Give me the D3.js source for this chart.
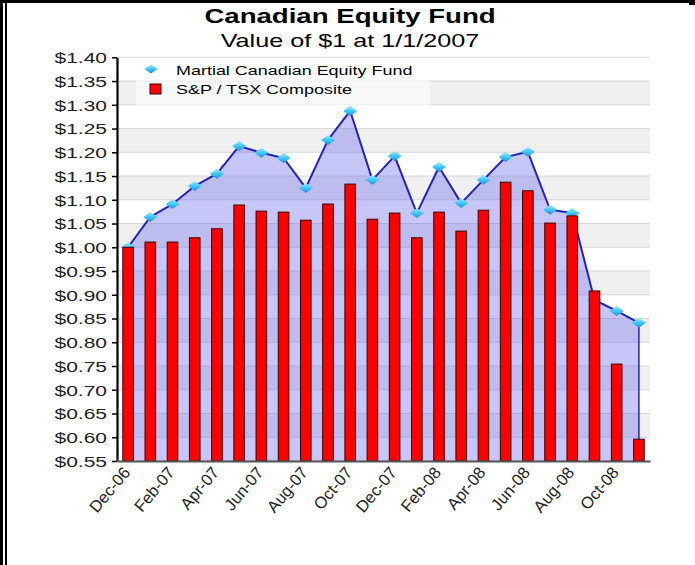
<!DOCTYPE html>
<html>
<head>
<meta charset="utf-8">
<script src="https://cdn.jsdelivr.net/npm/d3@7"></script>
<style>
  html, body { margin: 0; padding: 0; background: #fff; }
  svg { display: block; font-family: "Liberation Sans", Arial, sans-serif; }
</style>
</head>
<body>
<svg id="chart" width="695" height="565"></svg>
<script>
// ---- data ----
const months = ["Dec-06","Jan-07","Feb-07","Mar-07","Apr-07","May-07","Jun-07","Jul-07","Aug-07","Sep-07","Oct-07","Nov-07",
                "Dec-07","Jan-08","Feb-08","Mar-08","Apr-08","May-08","Jun-08","Jul-08","Aug-08","Sep-08","Oct-08","Nov-08"];
const fundValues = [1.000,1.064,1.091,1.129,1.155,1.213,1.199,1.188,1.125,1.226,1.287,1.142,
                    1.192,1.072,1.169,1.093,1.142,1.190,1.201,1.079,1.072,0.889,0.866,0.841];
const tsxValues  = [1.000,1.011,1.011,1.020,1.039,1.089,1.076,1.074,1.057,1.091,1.133,1.059,
                    1.072,1.020,1.074,1.034,1.078,1.137,1.119,1.051,1.066,0.908,0.754,0.596];
const yTickValues = [1.40,1.35,1.30,1.25,1.20,1.15,1.10,1.05,1.00,0.95,0.90,0.85,0.80,0.75,0.70,0.65,0.60,0.55];
const xTickLabels = ["Dec-06","Feb-07","Apr-07","Jun-07","Aug-07","Oct-07","Dec-07","Feb-08","Apr-08","Jun-08","Aug-08","Oct-08"];
const seriesNames = ["Martial Canadian Equity Fund","S&P / TSX Composite"];
const titleText = "Canadian Equity Fund";
const subtitleText = "Value of $1 at 1/1/2007";

// ---- layout ----
const svg = d3.select("#chart");
const pLeft = 117, pRight = 650, pTop = 57.3, pBottom = 461;
const SX = 1.4; // horizontal stretch of text

const x = d3.scaleBand().domain(months).range([pLeft, pRight]).paddingInner(0).paddingOuter(0);
const xc = d => x(d) + x.bandwidth() / 2;
const y = d3.scaleLinear().domain([0.55, 1.40]).range([pBottom, pTop]);

// frame borders
svg.append("rect").attr("x", 0).attr("y", 0).attr("width", 3).attr("height", 565).attr("fill", "#000");
svg.append("rect").attr("x", 5).attr("y", 0).attr("width", 2).attr("height", 565).attr("fill", "#000");
svg.append("rect").attr("x", 0).attr("y", 0).attr("width", 690).attr("height", 3).attr("fill", "#000");
svg.append("rect").attr("x", 689).attr("y", 0).attr("width", 6).attr("height", 5).attr("fill", "#000");

// helper for stretched text
function sText(g, tx, ty, str, size, weight, anchor, sx) {
  return g.append("text")
    .attr("transform", `translate(${tx},${ty}) scale(${sx || SX},1)`)
    .attr("text-anchor", anchor || "start")
    .attr("font-size", size)
    .attr("font-weight", weight || "normal")
    .attr("fill", "#000")
    .text(str);
}

// titles
sText(svg, 350, 23, titleText, 20, "bold", "middle", 1.38);
sText(svg, 350, 47, subtitleText, 17.5, "normal", "middle", 1.44);

// background bands
const bands = yTickValues.slice(0, -1).map((v, i) => ({hi: v, lo: yTickValues[i + 1], i}));
svg.append("g").selectAll("rect").data(bands).join("rect")
  .attr("x", pLeft).attr("width", pRight - pLeft)
  .attr("y", d => y(d.hi)).attr("height", d => y(d.lo) - y(d.hi))
  .attr("fill", d => d.i % 2 === 1 ? "#f0f0f0" : "#ffffff");

// gridlines
svg.append("g").selectAll("line").data(yTickValues).join("line")
  .attr("x1", pLeft).attr("x2", pRight)
  .attr("y1", d => y(d)).attr("y2", d => y(d))
  .attr("stroke", "#d6d6d6").attr("stroke-width", 1);

// area for fund
const area = d3.area().x((d, i) => xc(months[i])).y0(pBottom).y1(d => y(d));
svg.append("path").datum(fundValues).attr("d", area)
  .attr("fill", "rgb(98,98,235)").attr("fill-opacity", 0.36);

// line
const line = d3.line().x((d, i) => xc(months[i])).y(d => y(d));
svg.append("path").datum(fundValues).attr("d", line)
  .attr("fill", "none").attr("stroke", "#2323bb").attr("stroke-width", 2).attr("stroke-linejoin", "round");
svg.append("line")
  .attr("x1", xc(months[months.length - 1])).attr("x2", xc(months[months.length - 1]))
  .attr("y1", y(fundValues[fundValues.length - 1])).attr("y2", pBottom)
  .attr("stroke", "#2323bb").attr("stroke-width", 1.5);

// diamond gradient
const defs = svg.append("defs");
const grad = defs.append("linearGradient").attr("id", "dg").attr("x1", 0).attr("y1", 0).attr("x2", 0).attr("y2", 1);
grad.append("stop").attr("offset", "0%").attr("stop-color", "#9fe9ff");
grad.append("stop").attr("offset", "50%").attr("stop-color", "#40c8f8");
grad.append("stop").attr("offset", "100%").attr("stop-color", "#1a8fe0");
const diamond = "M0,-5 L7,0 L0,5 L-7,0 Z";

svg.append("g").selectAll("path").data(fundValues).join("path")
  .attr("transform", (d, i) => `translate(${xc(months[i])},${y(d)})`)
  .attr("d", diamond).attr("fill", "url(#dg)");

// bars
const bw = 10.6;
svg.append("g").selectAll("rect").data(tsxValues).join("rect")
  .attr("x", (d, i) => xc(months[i]) - bw / 2)
  .attr("width", bw)
  .attr("y", d => y(d))
  .attr("height", d => pBottom - y(d))
  .attr("fill", "#ff0000").attr("stroke", "#3a0000").attr("stroke-width", 1);

// y axis
const yAxis = d3.axisLeft(y).tickValues(yTickValues).tickSize(5).tickSizeOuter(0)
  .tickFormat(d => "$" + d3.format(".2f")(d));
const ya = svg.append("g").attr("transform", `translate(${pLeft},0)`).call(yAxis);
ya.select(".domain").attr("stroke", "#000").attr("stroke-width", 2.2);
ya.selectAll(".tick line").attr("stroke", "#000").attr("stroke-width", 1.5);
ya.selectAll(".tick text")
  .attr("font-size", 15).attr("font-family", "Liberation Sans, Arial, sans-serif").attr("fill", "#222")
  .attr("x", 0).attr("dy", "0.35em")
  .attr("transform", `translate(-10,0) scale(${SX},1)`);

// x axis
const xAxis = d3.axisBottom(x).tickValues(xTickLabels).tickSize(0).tickSizeOuter(0);
const xa = svg.append("g").attr("transform", `translate(0,${pBottom})`).call(xAxis);
xa.select(".domain").attr("stroke", "#555").attr("stroke-width", 2);
xa.selectAll(".tick text")
  .attr("font-size", 16.5).attr("font-family", "Liberation Sans, Arial, sans-serif").attr("fill", "#222")
  .attr("text-anchor", "end")
  .attr("x", 0).attr("y", 0).attr("dy", 0)
  .attr("transform", "translate(3,12) rotate(-50)");

// legend
const lg = svg.append("g");
lg.append("rect").attr("x", 136).attr("y", 60).attr("width", 294).attr("height", 46)
  .attr("fill", "#ffffff").attr("fill-opacity", 0.55);
lg.append("path").attr("transform", "translate(151,69)").attr("d", "M0,-4.5 L6.5,0 L0,4.5 L-6.5,0 Z").attr("fill", "url(#dg)");
sText(lg, 176, 75, seriesNames[0], 13.5, "normal", "start", 1.33);
lg.append("rect").attr("x", 150).attr("y", 84).attr("width", 11).attr("height", 10)
  .attr("fill", "#ff0000").attr("stroke", "#3a0000").attr("stroke-width", 1);
sText(lg, 176, 94, seriesNames[1], 13.5, "normal", "start", 1.33);
</script>
</body>
</html>
